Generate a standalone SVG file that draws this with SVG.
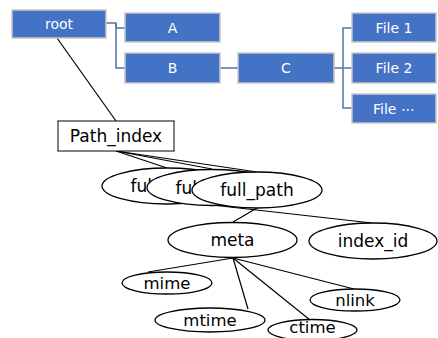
<svg xmlns="http://www.w3.org/2000/svg" width="438" height="338" viewBox="0 0 438 338">
<style>
.box{fill:#4472C4;stroke:#C8C8C8;stroke-width:1.5}
.bt{font-family:"DejaVu Sans","Noto Sans",sans-serif;font-size:14px;fill:#ffffff;text-anchor:middle}
.el{fill:#ffffff;stroke:#000000;stroke-width:1.3}
.et{font-family:"DejaVu Sans","Noto Sans",sans-serif;font-size:17px;fill:#000000;text-anchor:middle}
.ct{font-family:"DejaVu Sans","Noto Sans",sans-serif;font-size:16.5px;fill:#000000;text-anchor:middle}
.bl{fill:none;stroke:#5572A8;stroke-width:1.5}
.kl{fill:none;stroke:#000000;stroke-width:1.2}
</style>
<rect width="438" height="338" fill="#ffffff"/>
<g id="connectors">
<polyline class="bl" points="106,23 116,23 116,28 125,28"/>
<polyline class="bl" points="116,23 116,68 125,68"/>
<line class="bl" x1="220" y1="68" x2="238" y2="68"/>
<line class="bl" x1="334" y1="68" x2="352" y2="68"/>
<polyline class="bl" points="352,28 343,28 343,108 352,108"/>
<line class="kl" x1="57" y1="38" x2="116" y2="121"/>
<line class="kl" x1="116" y1="151" x2="167" y2="168"/>
<line class="kl" x1="116" y1="151" x2="212" y2="169"/>
<line class="kl" x1="116" y1="151" x2="257" y2="172"/>
<line class="kl" x1="212" y1="205" x2="372" y2="223"/>
<line class="kl" x1="257" y1="208" x2="233" y2="222"/>
<line class="kl" x1="233" y1="258" x2="148" y2="272"/>
<line class="kl" x1="233" y1="258" x2="248" y2="309"/>
<line class="kl" x1="233" y1="258" x2="310" y2="320"/>
<line class="kl" x1="233" y1="258" x2="354" y2="289"/>
</g>
<g id="root"><rect class="box" x="12" y="10" width="94" height="28"/><text class="bt" x="59" y="29">root</text></g>
<g id="A"><rect class="box" x="125" y="13" width="95" height="29"/><text class="bt" x="172.5" y="32.5">A</text></g>
<g id="B"><rect class="box" x="125" y="53" width="95" height="30"/><text class="bt" x="172.5" y="73">B</text></g>
<g id="C"><rect class="box" x="238" y="53" width="96" height="30"/><text class="bt" x="286" y="73">C</text></g>
<g id="file1"><rect class="box" x="352" y="13" width="84" height="29"/><text class="bt" x="394" y="32.5">File 1</text></g>
<g id="file2"><rect class="box" x="352" y="53" width="84" height="30"/><text class="bt" x="394" y="73">File 2</text></g>
<g id="file3"><rect class="box" x="352" y="94" width="84" height="29"/><text class="bt" x="394" y="113.5">File ⋯</text></g>
<g id="path_index"><rect x="58" y="121" width="116" height="30" fill="#ffffff" stroke="#000000" stroke-width="1"/><text class="et" x="116" y="142">Path_index</text></g>
<g id="full_path1"><ellipse class="el" cx="167" cy="186" rx="65" ry="18"/><text class="et" x="130.5" y="192" style="text-anchor:start">ful</text></g>
<g id="full_path2"><ellipse class="el" cx="212" cy="187.5" rx="65" ry="18"/><text class="et" x="175.5" y="193.5" style="text-anchor:start">ful</text></g>
<g id="full_path3"><ellipse class="el" cx="257" cy="190" rx="65" ry="18"/><text class="et" x="257" y="196">full_path</text></g>
<g id="meta"><ellipse class="el" cx="232.5" cy="240" rx="64.5" ry="17.5"/><text class="et" x="232.5" y="246">meta</text></g>
<g id="index_id"><ellipse class="el" cx="373" cy="241" rx="64" ry="18"/><text class="et" x="373" y="247">index_id</text></g>
<g id="mime"><ellipse class="el" cx="167" cy="283" rx="45" ry="11"/><text class="ct" x="167" y="289">mime</text></g>
<g id="mtime"><ellipse class="el" cx="210" cy="320" rx="55" ry="12"/><text class="ct" x="210" y="326">mtime</text></g>
<g id="ctime"><ellipse class="el" cx="312.5" cy="330" rx="44.5" ry="10.5"/><text class="ct" x="312.5" y="333">ctime</text></g>
<g id="nlink"><ellipse class="el" cx="355" cy="300" rx="45" ry="11"/><text class="ct" x="355" y="306">nlink</text></g>
</svg>
